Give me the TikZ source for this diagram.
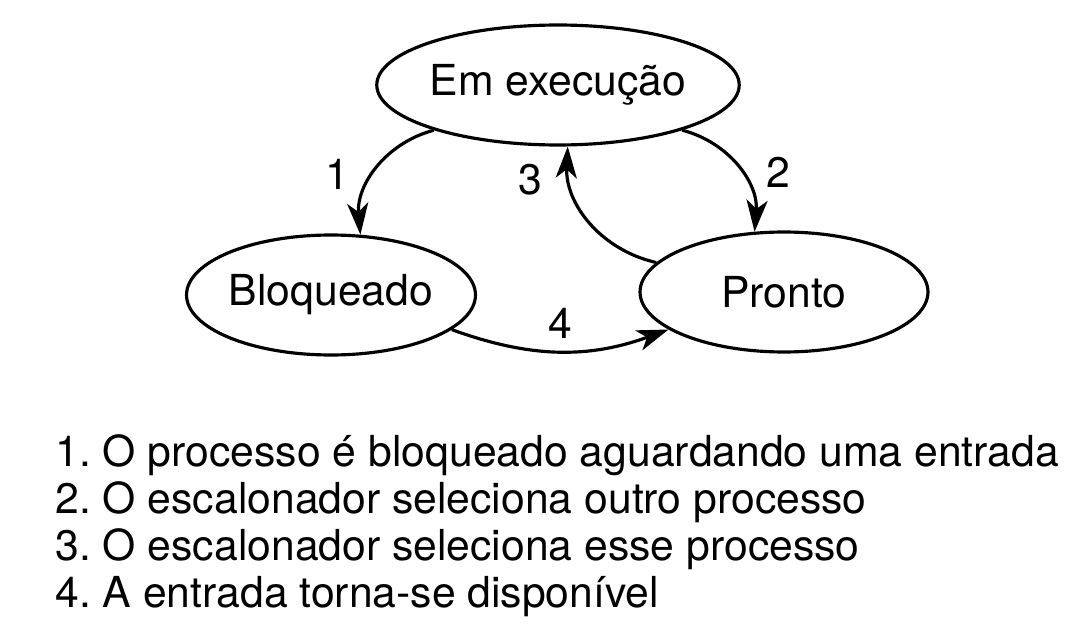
\documentclass[tikz,border=0pt]{standalone}
\usepackage{fontspec}
\setmainfont{TeX Gyre Heros}
\usepackage{tikz}
\usetikzlibrary{shapes.geometric, arrows.meta}
\usetikzlibrary{positioning}
\frenchspacing

\begin{document}
\begin{tikzpicture}[x=0.02cm, y=-0.02cm,
      state/.style={ellipse, draw=black, line width=1.8pt,
        minimum width=5.76cm, minimum height=2.4cm, inner sep=0pt,
        font=\fontsize{24.3pt}{28pt}\selectfont},
      trans/.style={line width=1.8pt,
        -{Stealth[length=18pt, width=12pt, inset=5pt]}},
      lbl/.style={font=\fontsize{24.3pt}{28pt}\selectfont},
      item/.style={anchor=base west, inner sep=0pt,
        font=\fontsize{24.3pt}{28pt}\selectfont},
    ]
  \useasboundingbox (0,0) rectangle (1086,635);

  % states
  \node[state] (exec) at (558,85) {Em execução};
  \node[state] (bloq) at (331,295) {Bloqueado};
  \node[state] (pronto) at (784,292) {Pronto};

  % transitions
  \draw[trans] (exec.200) to[bend right=40]
    node[lbl, pos=0.55, left=10pt] {1} (bloq.64);
  \draw[trans] (exec.340) to[bend left=40]
    node[lbl, pos=0.55, right=10pt] {2} (pronto.116);
  \draw[trans] (pronto.167) to[bend left=40]
    node[lbl, pos=0.8, left=12pt] {3} (exec.279);
  \draw[trans] (bloq.344) to[bend right=20]
    node[lbl, above=3pt] {4} (pronto.198);

  % legend
  \node[item] (l1) at (55,466) {1. O processo é bloqueado aguardando uma entrada};
  \node[item] (l2) at (55,513) {2. O escalonador seleciona outro processo};
  \node[item] (l3) at (55,560) {3. O escalonador seleciona esse processo};
  \node[item] (l4) at (55,607) {4. A entrada torna-se disponível};
\end{tikzpicture}
\end{document}
